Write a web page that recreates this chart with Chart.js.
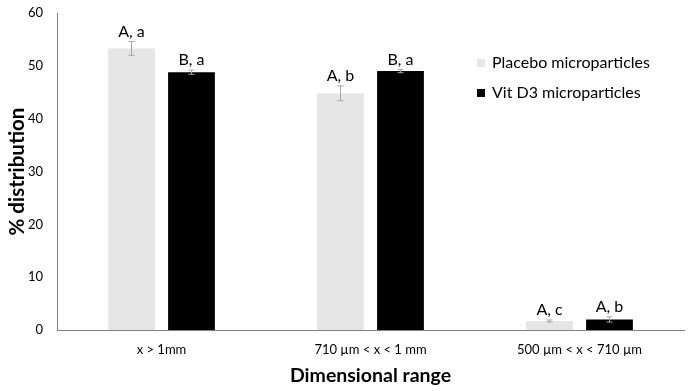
<!DOCTYPE html>
<html>
<head>
<meta charset="utf-8">
<script src="https://cdn.jsdelivr.net/npm/chart.js@4"></script>
<style>
  html, body { margin: 0; padding: 0; background: #fff; }
  #wrap { width: 692px; height: 391px; }
</style>
</head>
<body>
<div id="wrap"><canvas id="chart" width="692" height="391"></canvas></div>
<script>
const FONT = 'Lato, "Open Sans", sans-serif';

const categories = ['x > 1mm', '710 µm < x < 1 mm', '500 µm < x < 710 µm'];
const seriesNames = ['Placebo microparticles', 'Vit D3 microparticles'];
const placebo = [53.3, 44.8, 1.7];
const vitD3 = [48.8, 49.0, 2.0];
const placeboErr = [1.3, 1.4, 0.2];
const vitD3Err = [0.4, 0.3, 0.5];
const placeboLetters = ['A, a', 'A, b', 'A, c'];
const vitD3Letters = ['B, a', 'B, a', 'A, b'];
const yTicks = [0, 10, 20, 30, 40, 50, 60];

//планки похибок і літери над стовпчиками
const errorBars = {
    id: 'errorBars',
    afterDatasetsDraw(chart) {
        const ctx = chart.ctx;
        const y = chart.scales.y;
        const errs = [placeboErr, vitD3Err];
        const letters = [placeboLetters, vitD3Letters];
        chart.data.datasets.forEach((ds, di) => {
            chart.getDatasetMeta(di).data.forEach((bar, i) => {
                const v = ds.data[i];
                const top = y.getPixelForValue(v + errs[di][i]);
                const bot = y.getPixelForValue(v - errs[di][i]);
                ctx.save();
                ctx.strokeStyle = '#a6a6a6';
                ctx.lineWidth = 1;
                ctx.beginPath();
                ctx.moveTo(bar.x, top); ctx.lineTo(bar.x, bot);
                ctx.moveTo(bar.x - 3, top); ctx.lineTo(bar.x + 3, top);
                ctx.moveTo(bar.x - 3, bot); ctx.lineTo(bar.x + 3, bot);
                ctx.stroke();
                ctx.fillStyle = '#000';
                ctx.font = '16px ' + FONT;
                ctx.textAlign = 'center';
                ctx.textBaseline = 'alphabetic';
                ctx.fillText(letters[di][i], bar.x, top - 5);
                ctx.restore();
            });
        });
    }
};

//легенда праворуч у полі графіка
const sideLegend = {
    id: 'sideLegend',
    afterDraw(chart) {
        const ctx = chart.ctx;
        ctx.save();
        ctx.font = '16px ' + FONT;
        ctx.textBaseline = 'middle';
        ctx.textAlign = 'left';
        chart.data.datasets.forEach((ds, i) => {
            const yy = 63 + i * 30;
            ctx.fillStyle = ds.backgroundColor;
            ctx.fillRect(477, yy - 4, 8, 8);
            ctx.fillStyle = '#000';
            ctx.fillText(ds.label, 492, yy);
        });
        ctx.restore();
    }
};

new Chart(document.getElementById('chart').getContext('2d'), {
    type: 'bar',
    data: {
        labels: categories,
        datasets: [
            { label: seriesNames[0], data: placebo, backgroundColor: '#e6e6e6' },
            { label: seriesNames[1], data: vitD3, backgroundColor: '#000000' }
        ]
    },
    options: {
        responsive: false,
        animation: false,
        devicePixelRatio: 1,
        layout: { padding: { top: 13, right: 8, left: 0, bottom: 0 } },
        datasets: { bar: { categoryPercentage: 0.574, barPercentage: 0.78 } },
        scales: {
            x: {
                grid: { display: false, drawTicks: false },
                border: { color: '#808080', width: 1 },
                ticks: { color: '#000', padding: 12, font: { family: FONT, size: 13 }, maxRotation: 0 },
                title: { display: true, text: 'Dimensional range', color: '#000', padding: { top: 3 }, font: { family: FONT, size: 19.5, weight: 'bold' } },
                afterFit: s => { s.height = 61; }
            },
            y: {
                min: 0,
                max: 60,
                afterBuildTicks: s => { s.ticks = yTicks.map(v => ({ value: v })); },
                grid: { display: false, drawOnChartArea: false, drawTicks: true, tickLength: 5, tickColor: '#808080' },
                border: { color: '#808080', width: 1 },
                ticks: { color: '#000', padding: 9, font: { family: FONT, size: 13 } },
                title: { display: true, text: '% distribution', color: '#000', padding: { top: 5, bottom: 0 }, font: { family: FONT, size: 20.5, weight: 'bold' } },
                afterFit: s => { s.width = 57; s.paddingTop = 0; s.paddingBottom = 0; }
            }
        },
        plugins: {
            legend: { display: false },
            tooltip: { enabled: false }
        }
    },
    plugins: [errorBars, sideLegend]
});
</script>
</body>
</html>
